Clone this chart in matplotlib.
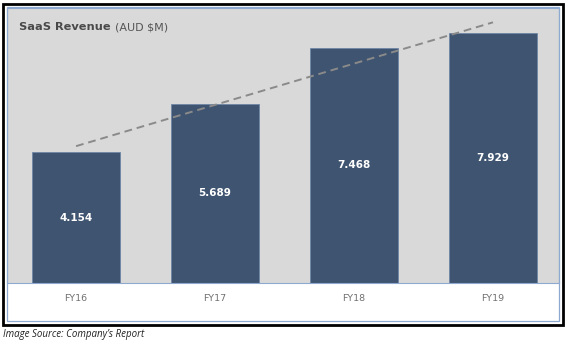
import numpy as np
import matplotlib
matplotlib.use("Agg")
from matplotlib import pyplot as plt
from matplotlib.patches import Rectangle

# data
years = ["FY16", "FY17", "FY18", "FY19"]
revenue = [4.154, 5.689, 7.468, 7.929]
value_labels = ["4.154", "5.689", "7.468", "7.929"]

W, H = 568, 344
fig = plt.figure(figsize=(W / 100, H / 100), dpi=100)
fig.patch.set_facecolor("white")

# plot area (gray), pixel box 7..559 x 8..283
ax = fig.add_axes([7 / W, (H - 283) / H, (559 - 7) / W, (283 - 8) / H])
ax.set_facecolor("#d9d9d9")

x = np.arange(len(years))
ax.bar(x, revenue, width=0.63, color="#3f5470", edgecolor="#6f86a6",
       linewidth=0.6, zorder=2)

# linear trend line
k, b = np.polyfit(x, revenue, 1)
ax.plot(x[[0, -1]], k * x[[0, -1]] + b, linestyle=(0, (4, 2.5)),
        color="#8a8a8a", linewidth=1.4, zorder=3)

for xi, v, lab in zip(x, revenue, value_labels):
    ax.text(xi, v / 2, lab, ha="center", va="center", color="white",
            fontsize=7.5, fontweight="bold", family="DejaVu Sans", zorder=4)

ax.set_xlim(-0.497, 3.475)
ax.set_ylim(0, 8.73)
ax.set_xticks(x)
ax.set_xticklabels(years, color="#707070", fontsize=6.8, family="DejaVu Sans")
ax.tick_params(axis="x", length=0, pad=8)
ax.set_yticks([])
for s in ax.spines.values():
    s.set_color("#8ea9d0")
    s.set_linewidth(0.8)

# title
fig.text(19 / W, 1 - 27 / H, "SaaS Revenue", fontsize=8.2, fontweight="bold",
         color="#4a4a4a", family="DejaVu Sans", va="center")
fig.text(115 / W, 1 - 27 / H, "(AUD $M)", fontsize=8, color="#555555",
         family="DejaVu Sans", va="center")

# inner light-blue frame and outer black frame
fig.add_artist(Rectangle((7 / W, (H - 321) / H), (559 - 7) / W, (321 - 7) / H,
                         transform=fig.transFigure, fill=False,
                         edgecolor="#8ea9d0", linewidth=0.9))
fig.add_artist(Rectangle((3.5 / W, (H - 325) / H), (563 - 3.5) / W, (325 - 3.5) / H,
                         transform=fig.transFigure, fill=False,
                         edgecolor="black", linewidth=2))

fig.text(3 / W, 1 - 335 / H, "Image Source: Company\u2019s Report", fontsize=7,
         style="italic", color="#222222", family="Open Sans", va="center")

fig.savefig("out.png", dpi=100)
